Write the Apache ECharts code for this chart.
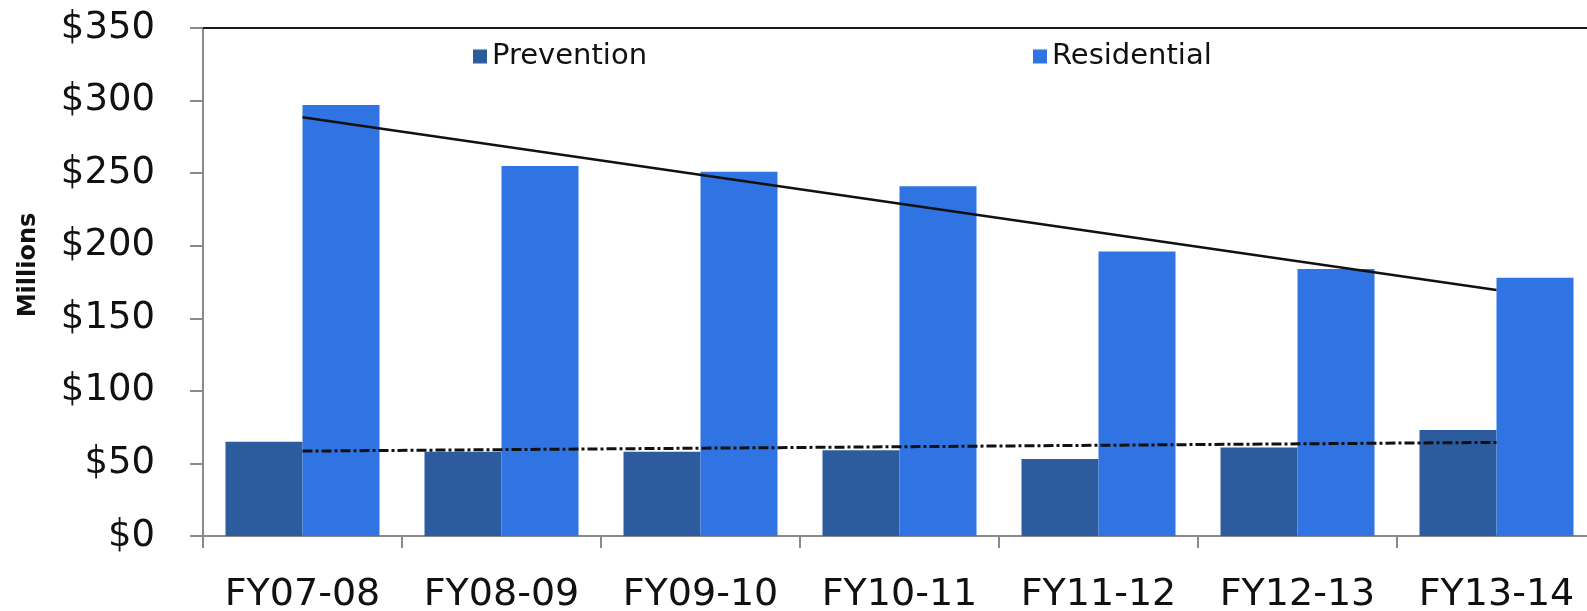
<!DOCTYPE html>
<html>
<head>
<meta charset="utf-8">
<script src="https://cdn.jsdelivr.net/npm/echarts@6/dist/echarts.min.js"></script>
<style>
  html, body { margin: 0; padding: 0; background: #ffffff; }
  #chart { width: 1587px; height: 611px; }
</style>
</head>
<body>
<div id="chart"></div>
<script>
// Fiscal years on the category axis
const categories = ['FY07-08', 'FY08-09', 'FY09-10', 'FY10-11', 'FY11-12', 'FY12-13', 'FY13-14'];

// Spending in millions of dollars
const prevention = [65, 58, 58, 59, 53, 61, 73];
const residential = [297, 255, 251, 241, 196, 184, 178];

// Trend lines: value at the first and last fiscal year
const residentialTrend = [288.5, 169.5];
const preventionTrend = [58.5, 64.5];

// Y-axis ticks
const yMin = 0, yMax = 350, yStep = 50;

const FONT = 'DejaVu Sans';
const TEXT = '#111111';

function trendData(ends) {
  return [[0, ends[0]], [categories.length - 1, ends[1]]];
}

const chart = echarts.init(document.getElementById('chart'), null, { renderer: 'canvas' });

chart.setOption({
  animation: false,
  backgroundColor: '#ffffff',
  textStyle: { fontFamily: FONT, color: TEXT },
  grid: {
    left: 203, top: 28, width: 1393, height: 508,
    containLabel: false,
    outerBoundsMode: 'none'
  },
  legend: [
    {
      data: ['Prevention'],
      left: 468, top: 37,
      itemWidth: 14, itemHeight: 14, itemGap: 10,
      icon: 'rect',
      textStyle: { fontFamily: FONT, fontSize: 29, color: TEXT }
    },
    {
      data: ['Residential'],
      left: 1028, top: 37,
      itemWidth: 14, itemHeight: 14,
      icon: 'rect',
      textStyle: { fontFamily: FONT, fontSize: 29, color: TEXT }
    }
  ],
  xAxis: [
    {
      type: 'category',
      data: categories,
      position: 'bottom',
      axisLine: { show: true, lineStyle: { color: '#8a8a8a', width: 2 } },
      axisTick: { show: true, alignWithLabel: false, length: 12, lineStyle: { color: '#8a8a8a', width: 2 } },
      axisLabel: { fontFamily: FONT, fontSize: 38, color: TEXT, margin: 40, interval: 0 },
      splitLine: { show: false }
    },
    {
      // plot-area top border
      type: 'category',
      data: categories,
      position: 'top',
      axisLine: { show: true, lineStyle: { color: '#1a1a1a', width: 2 } },
      axisTick: { show: false },
      axisLabel: { show: false }
    }
  ],
  yAxis: {
    type: 'value',
    min: yMin, max: yMax, interval: yStep,
    name: 'Millions',
    nameLocation: 'middle',
    nameRotate: 90,
    nameGap: 162,
    nameTextStyle: {
      fontFamily: FONT, fontSize: 24, fontWeight: 'bold', color: TEXT,
      padding: [0, 0, 0, 34]
    },
    axisLine: { show: true, lineStyle: { color: '#8a8a8a', width: 2 } },
    axisTick: { show: true, length: 13, lineStyle: { color: '#8a8a8a', width: 2 } },
    axisLabel: {
      fontFamily: FONT, fontSize: 37, color: TEXT, margin: 48,
      formatter: v => '$' + v
    },
    splitLine: { show: false }
  },
  series: [
    {
      name: 'Prevention',
      type: 'bar',
      data: prevention,
      barWidth: 77,
      barGap: '0%',
      itemStyle: { color: '#2C5C9E' }
    },
    {
      name: 'Residential',
      type: 'bar',
      data: residential,
      barWidth: 77,
      barGap: '0%',
      itemStyle: { color: '#2F74E2' }
    },
    {
      name: 'Residential trend',
      type: 'line',
      data: trendData(residentialTrend),
      symbol: 'none',
      lineStyle: { color: '#111111', width: 2.5 },
      z: 5
    },
    {
      name: 'Prevention trend',
      type: 'line',
      data: trendData(preventionTrend),
      symbol: 'none',
      lineStyle: { color: '#111111', width: 3, type: [10, 3, 3, 3] },
      z: 5
    }
  ]
});
</script>
</body>
</html>
